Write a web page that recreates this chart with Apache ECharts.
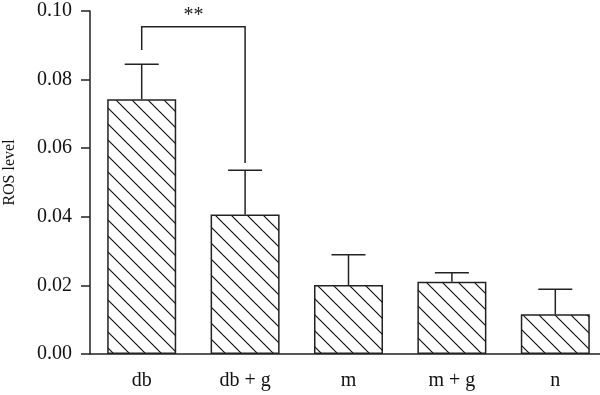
<!DOCTYPE html>
<html>
<head>
<meta charset="utf-8">
<script src="https://cdn.jsdelivr.net/npm/echarts@6/dist/echarts.min.js"></script>
<style>html,body{margin:0;padding:0;background:#fff}#c{width:600px;height:395px}</style>
</head>
<body>
<div id="c"></div>
<script>
const categories = ['db', 'db + g', 'm', 'm + g', 'n'];
const means = [0.0743, 0.0407, 0.0201, 0.0211, 0.0116];
const upperErr = [0.0845, 0.0536, 0.0289, 0.0237, 0.0189];
const yTicks = [0, 0.02, 0.04, 0.06, 0.08, 0.10];
// significance bracket: [leftCat, rightCat, leftBottom, rightBottom, top, label]
const bracket = [[0, 1, 0.0886, 0.0557, 0.0954, '**']];

const FONT = 'Liberation Serif';
const INK = '#222';

function hatch() {
  const s = 16;
  const c = document.createElement('canvas');
  c.width = s; c.height = s;
  const g = c.getContext('2d');
  g.fillStyle = '#fff';
  g.fillRect(0, 0, s, s);
  g.strokeStyle = '#111';
  g.lineWidth = 1.2;
  g.beginPath();
  g.moveTo(-2, -2); g.lineTo(s + 2, s + 2);
  g.moveTo(-s - 2, -2); g.lineTo(2, s + 2);
  g.moveTo(s - 2, -2); g.lineTo(2 * s + 2, s + 2);
  g.stroke();
  return c;
}

const chart = echarts.init(document.getElementById('c'), null, {renderer: 'canvas'});
chart.setOption({
  animation: false,
  backgroundColor: '#fff',
  grid: {left: 90, right: -7, top: 11, bottom: 41, containLabel: false, outerBoundsMode: 'none'},
  xAxis: {
    type: 'category',
    data: categories,
    axisLine: {lineStyle: {color: INK, width: 1.5}},
    axisTick: {alignWithLabel: true, length: 8, lineStyle: {color: INK, width: 1.5}},
    axisLabel: {color: '#111', fontFamily: FONT, fontSize: 20, margin: 17}
  },
  yAxis: {
    type: 'value',
    min: yTicks[0], max: yTicks[yTicks.length - 1], interval: 0.02,
    name: 'ROS level',
    nameLocation: 'middle',
    nameRotate: 90,
    nameGap: 72,
    nameTextStyle: {color: '#111', fontFamily: FONT, fontSize: 16, padding: [0, 0, 0, 20]},
    splitLine: {show: false},
    axisLine: {show: true, lineStyle: {color: INK, width: 1.5}},
    axisTick: {show: true, length: 9, lineStyle: {color: INK, width: 1.5}},
    axisLabel: {color: '#111', fontFamily: FONT, fontSize: 20, margin: 18,
      formatter: v => v.toFixed(2)}
  },
  series: [
    {
      type: 'bar',
      data: means,
      barWidth: 69,
      itemStyle: {
        color: {image: hatch(), repeat: 'repeat'},
        borderColor: INK,
        borderWidth: 1.5
      },
      z: 2
    },
    {
      type: 'custom',
      data: means.map((m, i) => [i, m, upperErr[i]]),
      z: 3,
      renderItem: function (params, api) {
        const p0 = api.coord([api.value(0), api.value(1)]);
        const p1 = api.coord([api.value(0), api.value(2)]);
        const st = {stroke: INK, lineWidth: 1.5};
        return {
          type: 'group',
          children: [
            {type: 'line', shape: {x1: p0[0], y1: p0[1], x2: p1[0], y2: p1[1]}, style: st},
            {type: 'line', shape: {x1: p1[0] - 17, y1: p1[1], x2: p1[0] + 17, y2: p1[1]}, style: st}
          ]
        };
      }
    },
    {
      type: 'custom',
      data: bracket,
      z: 3,
      clip: false,
      renderItem: function (params, api) {
        const a = api.coord([api.value(0), api.value(2)]);
        const b = api.coord([api.value(1), api.value(3)]);
        const t = api.coord([api.value(0), api.value(4)]);
        const st = {stroke: INK, lineWidth: 1.5, fill: null};
        return {
          type: 'group',
          children: [
            {type: 'polyline', shape: {points: [[a[0], a[1]], [a[0], t[1]], [b[0], t[1]], [b[0], b[1]]]}, style: st},
            {type: 'text', x: (a[0] + b[0]) / 2, y: t[1] - 1,
              style: {text: bracket[params.dataIndex][5], fill: '#222', font: '20px ' + FONT,
                align: 'center', verticalAlign: 'bottom'}}
          ]
        };
      }
    }
  ]
});
</script>
</body>
</html>
